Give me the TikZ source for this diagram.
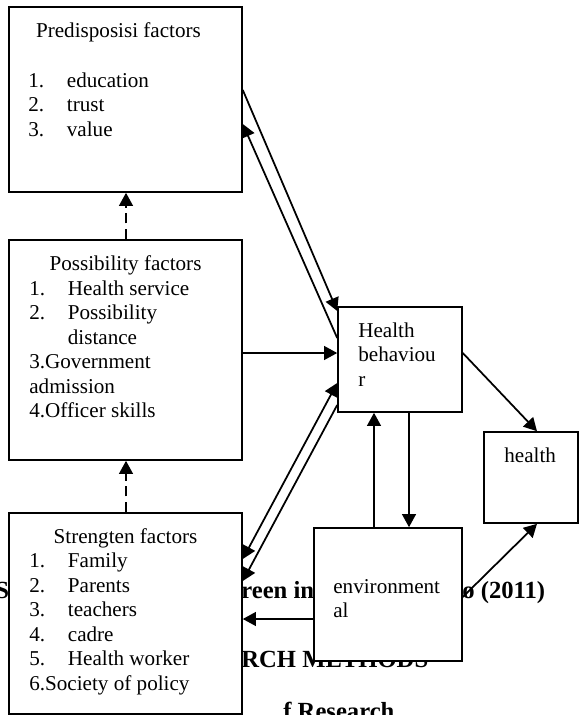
\documentclass[tikz,border=0pt]{standalone}
\usepackage{fontspec}
\setmainfont{Liberation Serif}
\usetikzlibrary{arrows.meta, calc, fit}

\newcommand{\litem}[2]{\makebox[21.9pt][l]{#1}#2}

\begin{document}
\begin{tikzpicture}[x=0.5682pt, y=-0.5682pt, >={Triangle[length=7.4pt,width=7.8pt]},
  box/.style={draw, fill=white, line width=0.9pt, inner sep=0pt},
  txt/.style={inner sep=0pt, anchor=base west, align=left, font=\fontsize{12}{13.92}\selectfont},
  ttl/.style={inner sep=0pt, anchor=base, font=\fontsize{12}{13.92}\selectfont},
  back/.style={inner sep=0pt, anchor=base west, font=\fontsize{14}{16}\selectfont\bfseries},
  arr/.style={->, line width=1pt},
  dsh/.style={->, line width=1pt, dash pattern=on 6pt off 3pt}]

\useasboundingbox (0,0) rectangle (579,715);
\clip (0,0) rectangle (579,715);

% page text behind the scheme
\node[back] (src1) at (-5,598) {S};
\node[back] (src2) at (241,598) {reen in};
\node[back] (src3) at (462,598) {o (2011)};
\node[back] (chap) at (241,667) {RCH METHODS};
\node[back] (sub) at (283,719) {f Research};

\node[box, fit={(9,7) (242,192)}] (pre) {};
\node[box, fit={(9,240) (242,460)}] (pos) {};
\node[box, fit={(9,513) (242,714)}] (str) {};
\node[box, fit={(338,307) (462,412)}] (hb) {};
\node[box, fit={(484,432) (578,523)}] (hea) {};
\node[box, fit={(314,528) (462,661)}] (env) {};

% base of a wrapped text is its last line
\node[ttl] (pre-t) at (118.5,37.5) {Predisposisi factors};
\node[txt] (pre-l) at (28,136) {\litem{1.}{education}\\ \litem{2.}{trust}\\ \litem{3.}{value}};

\node[ttl] (pos-t) at (125.5,270) {Possibility factors};
\node[txt] (pos-l) at (29,417.5) {\litem{1.}{Health service}\\ \litem{2.}{Possibility}\\ \litem{}{distance}\\ 3.Government\\ admission\\ 4.Officer skills};

\node[ttl] (str-t) at (125.5,543) {Strengten factors};
\node[txt] (str-l) at (29,690) {\litem{1.}{Family}\\ \litem{2.}{Parents}\\ \litem{3.}{teachers}\\ \litem{4.}{cadre}\\ \litem{5.}{Health worker}\\ 6.Society of policy};

\node[txt] (hb-t) at (358,386) {Health\\ behaviou\\ r};
\node[txt] (hea-t) at (504,462) {health};
\node[txt] (env-t) at (333,617.5) {environment\\ al};

\draw[arr] (pre.east |- 0,90) -- (hb.west |- 0,311);
\draw[arr] (hb.west |- 0,338) -- (pre.east |- 0,124);
\draw[arr] (pos.east |- 0,353) -- (hb.west |- 0,353);
\draw[arr, <->] (str.east |- 0,559) -- (hb.west |- 0,383);
\draw[arr] (hb.west |- 0,405) -- (str.east |- 0,581);
\draw[arr] (hb.east |- 0,353) -- (537,0 |- hea.north);
\draw[arr] (env.east |- 0,597) -- (537,0 |- hea.south);
\draw[arr] (374,0 |- env.north) -- (374,0 |- hb.south);
\draw[arr] (409,0 |- hb.south) -- (409,0 |- env.north);
\draw[arr] (env.west |- 0,619) -- (str.east |- 0,619);
\draw[dsh] (126,0 |- pos.north) -- (126,0 |- pre.south);
\draw[dsh] (126,0 |- str.north) -- (126,0 |- pos.south);

\end{tikzpicture}
\end{document}
